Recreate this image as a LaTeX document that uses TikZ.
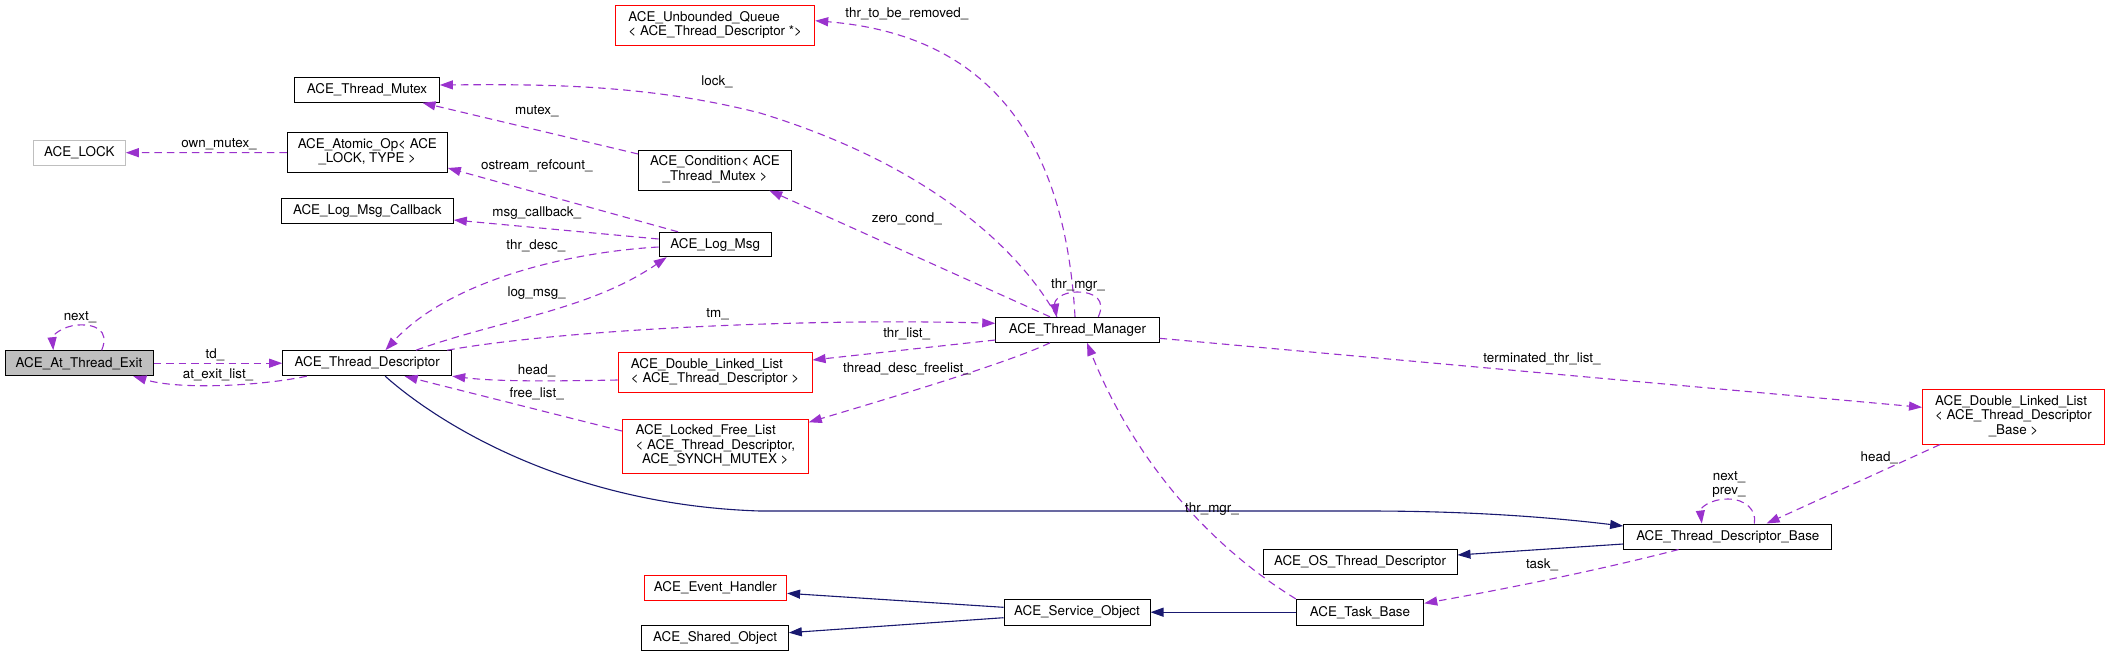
\documentclass[tikz,border=0pt]{standalone}
\usepackage{fontspec}
\setmainfont{TeX Gyre Heros}
\usetikzlibrary{arrows.meta,calc}
\definecolor{edgepurple}{HTML}{9A32CD}
\definecolor{edgenavy}{HTML}{191970}
\definecolor{nodegray}{HTML}{BFBFBF}
\definecolor{nodered}{HTML}{FF0000}
\newcommand{\mlft}[1]{\begin{tabular}{@{}l@{}}#1\end{tabular}}
\newcommand{\mctr}[1]{\begin{tabular}{@{}c@{}}#1\end{tabular}}
\newcommand{\mcl}[1]{\multicolumn{1}{@{}c@{}}{#1}}
\begin{document}
\begin{tikzpicture}[x=1pt, y=-1pt,
  font=\fontsize{13.4}{14.5}\selectfont,
  box/.style={draw=black, line width=1pt, fill=white, inner sep=0pt, anchor=center},
  redbox/.style={box, draw=nodered},
  use/.style={draw=edgepurple, line width=1.1pt, dash pattern=on 7.5pt off 5pt, -{Triangle[length=13pt,width=9pt]}},
  inh/.style={draw=edgenavy, line width=1.1pt, -{Triangle[length=13pt,width=9pt]}},
  lbl/.style={inner sep=0pt, anchor=center}]
\fill[white] (0,0) rectangle (2109,657);
\useasboundingbox (0,0) rectangle (2109,657);

% nodes
\node[box, fill=nodegray, minimum width=148pt, minimum height=25pt] (ate) at (79,363.2) {ACE\_At\_Thread\_Exit};
\node[box, minimum width=169pt, minimum height=25pt] (td) at (367.2,363.2) {ACE\_Thread\_Descriptor};
\node[box, draw=nodegray, minimum width=92pt, minimum height=25pt] (lock) at (79.3,152.7) {ACE\_LOCK};
\node[box, minimum width=160pt, minimum height=39.6pt] (aop) at (367.3,152.5) {\mctr{ACE\_Atomic\_Op< ACE\\\_LOCK, TYPE >}};
\node[box, minimum width=172pt, minimum height=25.3pt] (lmc) at (367.3,211.3) {ACE\_Log\_Msg\_Callback};
\node[box, minimum width=144.7pt, minimum height=25pt] (tmx) at (367,89.8) {ACE\_Thread\_Mutex};
\node[redbox, minimum width=199pt, minimum height=40.3pt] (uq) at (715.2,25.8) {\mlft{ACE\_Unbounded\_Queue\\< ACE\_Thread\_Descriptor *>}};
\node[box, minimum width=152.8pt, minimum height=40pt] (cond) at (715,170) {\mctr{ACE\_Condition< ACE\\\_Thread\_Mutex >}};
\node[box, minimum width=112.4pt, minimum height=24.4pt] (lm) at (715.2,244.5) {ACE\_Log\_Msg};
\node[box, minimum width=163.3pt, minimum height=25pt] (tmg) at (1077.4,329.8) {ACE\_Thread\_Manager};
\node[redbox, minimum width=194pt, minimum height=40pt] (dll) at (715.1,372.7) {\mlft{ACE\_Double\_Linked\_List\\< ACE\_Thread\_Descriptor >}};
\node[redbox, minimum width=186pt, minimum height=54.3pt] (lfl) at (715.3,446.2) {\mlft{ACE\_Locked\_Free\_List\\< ACE\_Thread\_Descriptor,\\\mcl{ACE\_SYNCH\_MUTEX >}}};
\node[redbox, minimum width=182pt, minimum height=54.7pt] (dllb) at (2013.5,416.7) {\mlft{ACE\_Double\_Linked\_List\\< ACE\_Thread\_Descriptor\\\mcl{\_Base >}}};
\node[box, minimum width=208.3pt, minimum height=25pt] (tdb) at (1727.8,536.5) {ACE\_Thread\_Descriptor\_Base};
\node[box, minimum width=194pt, minimum height=25.5pt] (ostd) at (1360,561.8) {ACE\_OS\_Thread\_Descriptor};
\node[box, minimum width=127.5pt, minimum height=25.7pt] (tb) at (1360,612.2) {ACE\_Task\_Base};
\node[box, minimum width=146pt, minimum height=25.7pt] (so) at (1077,612.2) {ACE\_Service\_Object};
\node[redbox, minimum width=142.4pt, minimum height=25pt] (eh) at (715.4,587.5) {ACE\_Event\_Handler};
\node[box, minimum width=146.4pt, minimum height=25pt] (sho) at (715.1,637.5) {ACE\_Shared\_Object};

% inheritance edges
\draw[inh] ([xshift=18pt]td.south) .. controls (440,425) and (570,505) .. (760,511) -- (1367,511) .. controls (1460,511) and (1540,516) .. ([yshift=10.5pt]tdb.west);
\draw[inh] ([yshift=-7.5pt]tdb.west) -- ([yshift=6.8pt]ostd.east);
\draw[inh] (tb) -- (so);
\draw[inh] ([yshift=4.9pt]so.west) -- ([yshift=-5.8pt]eh.east);
\draw[inh] ([yshift=-5.5pt]so.west) -- ([yshift=4.8pt]sho.east);

% usage edges
\draw[use] ([xshift=22.7pt]ate.north) .. controls (110,330) and (95,324) .. (78,325) .. controls (62,326) and (52,336) .. ([xshift=-25.7pt]ate.north);
\draw[use] (ate) -- (td);
\draw[use] ([xshift=-60.5pt]td.south) .. controls (260,386) and (180,390) .. ([xshift=54.3pt]ate.south);
\draw[use] (aop) -- (lock);
\draw[use] ([xshift=-20.4pt]tmg.north) .. controls (1020,250) and (930,165) .. (760,113) .. controls (650,85) and (550,84) .. ([yshift=4.8pt]tmx.east);
\draw[use] ([yshift=16pt]cond.west) -- ([xshift=55.5pt]tmx.south);
\draw[use] ([xshift=-37.2pt]lm.north) -- ([yshift=-15.5pt]aop.east);
\draw[use] ([yshift=5.5pt]lm.west) -- ([yshift=-8.7pt]lmc.east);
\draw[use] ([yshift=-2.5pt]lm.west) .. controls (570,252) and (450,280) .. ([xshift=18.2pt]td.north);
\draw[use] ([xshift=48.8pt]td.north) .. controls (500,320) and (590,310) .. ([xshift=-48.5pt]lm.south);
\draw[use] ([xshift=-5pt]td.north east) .. controls (560,330) and (800,318) .. ([yshift=6.5pt]tmg.west);
\draw[use] ([yshift=-10.2pt]tmg.west) -- ([yshift=12.7pt]dll.east);
\draw[use] ([xshift=-27.4pt]tmg.south) .. controls (1010,362) and (900,395) .. ([yshift=-3.7pt]lfl.north east);
\draw[use] ([yshift=-7.3pt]dll.west) .. controls (560,381) and (500,382) .. (td.south east);
\draw[use] ([yshift=15.2pt]lfl.west) -- ([xshift=37.4pt]td.south);
\draw[use] ([xshift=-27.4pt]tmg.north) -- ([xshift=54.3pt]cond.south);
\draw[use] ([xshift=-2.4pt]tmg.north) .. controls (1065,140) and (990,35) .. ([yshift=5.1pt]uq.east);
\draw[use] ([xshift=20.9pt]tmg.north) .. controls (1106,300) and (1095,292) .. (1077,292) .. controls (1062,292) and (1054,300) .. ([xshift=-20.7pt]tmg.north);
\draw[use] (tb.north west) .. controls (1200,540) and (1130,450) .. ([xshift=9.6pt]tmg.south);
\draw[use] ([yshift=-8.5pt]tmg.east) -- ([yshift=9.4pt]dllb.west);
\draw[use] ([xshift=-73.5pt]dllb.south) -- ([xshift=38.8pt]tdb.north);
\draw[use] ([xshift=26.5pt]tdb.north) .. controls (1757,510) and (1745,499) .. (1728,499) .. controls (1710,499) and (1700,508) .. ([xshift=-26pt]tdb.north);
\draw[use] ([xshift=-49.2pt]tdb.south) .. controls (1600,570) and (1500,590) .. ([yshift=8.9pt]tb.east);

% labels
\node[lbl] (l1) at (80,317.7) {next\_};
\node[lbl] (l2) at (215,355) {td\_};
\node[lbl] (l3) at (218,375) {at\_exit\_list\_};
\node[lbl] (l4) at (219,144) {own\_mutex\_};
\node[lbl] (l5) at (717,82) {lock\_};
\node[lbl] (l6) at (536.8,111) {mutex\_};
\node[lbl] (l7) at (536.8,165.7) {ostream\_refcount\_};
\node[lbl] (l8) at (536.8,213.3) {msg\_callback\_};
\node[lbl] (l9) at (535.8,246) {thr\_desc\_};
\node[lbl] (l10) at (536.6,292.7) {log\_msg\_};
\node[lbl] (l11) at (717.6,314.3) {tm\_};
\node[lbl] (l12) at (906.7,334) {thr\_list\_};
\node[lbl] (l13) at (907,369) {thread\_desc\_freelist\_};
\node[lbl] (l14) at (536.6,371) {head\_};
\node[lbl] (l15) at (536.6,393.3) {free\_list\_};
\node[lbl] (l16) at (906.8,218.3) {zero\_cond\_};
\node[lbl] (l17) at (906.8,14) {thr\_to\_be\_removed\_};
\node[lbl] (l18) at (1078,285) {thr\_mgr\_};
\node[lbl] (l19) at (1212,509.3) {thr\_mgr\_};
\node[lbl] (l20) at (1542,359) {terminated\_thr\_list\_};
\node[lbl] (l21) at (1879.3,457.3) {head\_};
\node[lbl] (l22) at (1729,484.5) {\mctr{next\_\\prev\_}};
\node[lbl] (l23) at (1542,565) {task\_};
\end{tikzpicture}
\end{document}
